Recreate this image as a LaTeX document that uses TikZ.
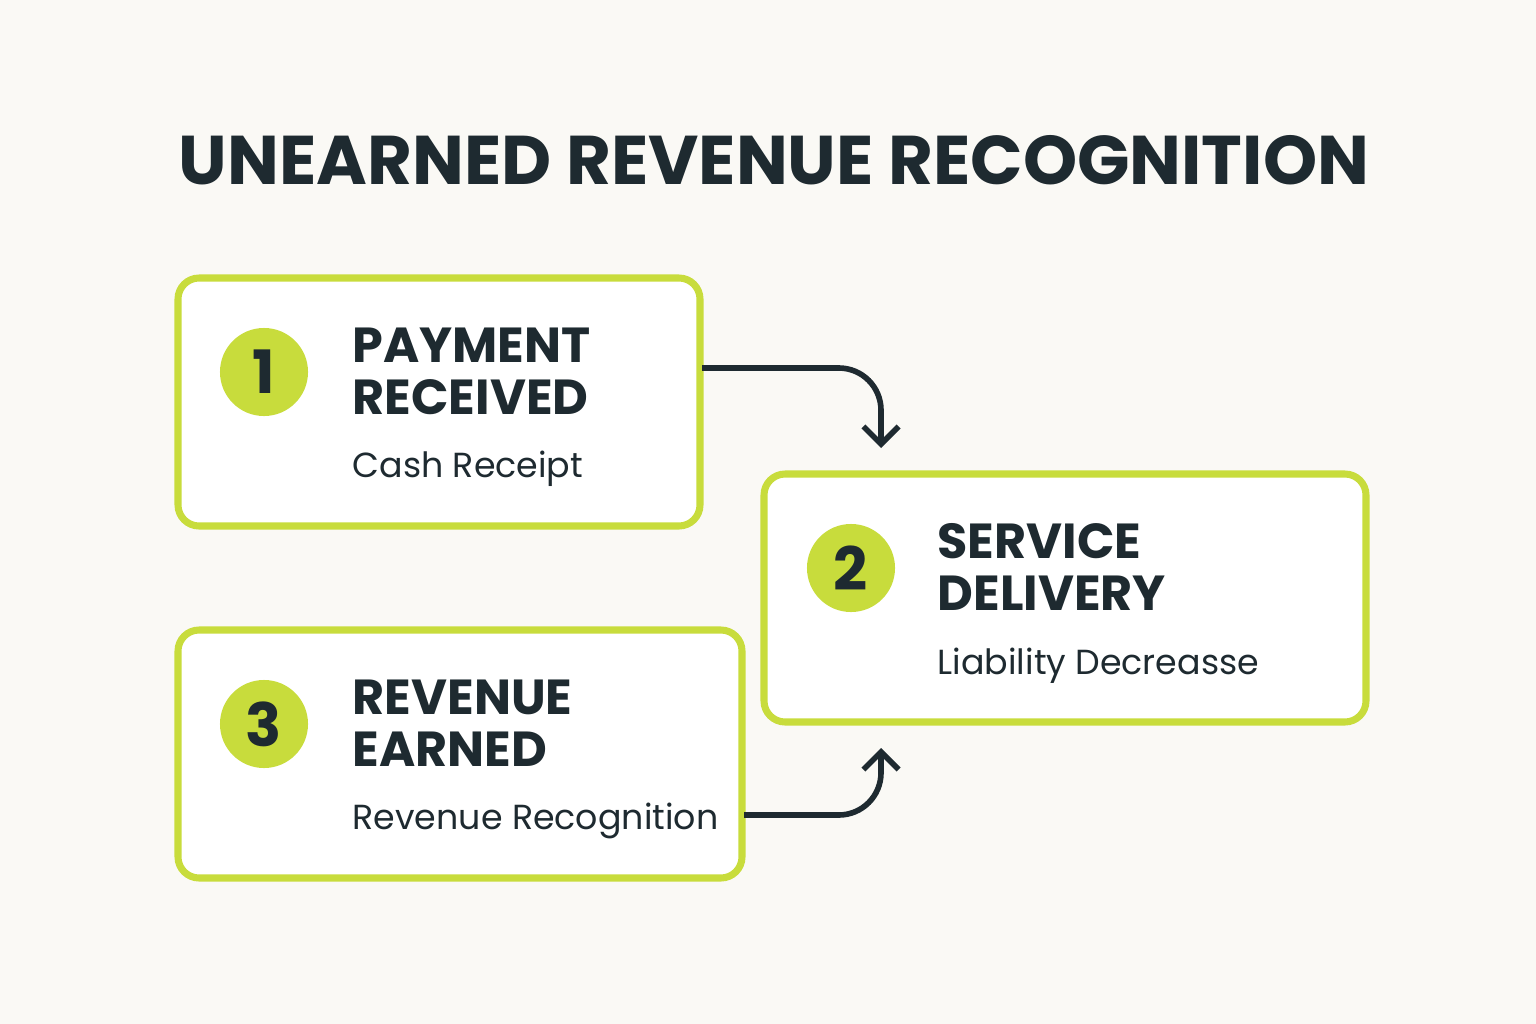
\documentclass[tikz,border=0pt]{standalone}
\usepackage{fontspec}
\setmainfont{Poppins}
\usetikzlibrary{arrows.meta,positioning,calc}
\definecolor{lime}{HTML}{C8DC3C}
\definecolor{ink}{HTML}{1E2A30}
\definecolor{paper}{HTML}{FAF9F5}
\tikzset{
  stepcard/.style={draw=lime, line width=2pt, rounded corners=6pt, fill=white},
  badge/.style={circle, fill=lime, minimum size=0.88cm, inner sep=0pt, text=ink, font=\bfseries\fontsize{17}{20}\selectfont},
  headtxt/.style={anchor=west, align=left, text=ink, font=\bfseries\fontsize{14}{14.8}\selectfont, inner sep=0pt},
  subtxt/.style={anchor=west, text=ink, font=\fontsize{9.9}{12}\selectfont, inner sep=0pt},
  flow/.style={draw=ink, line width=1.6pt, rounded corners=12pt, -{Straight Barb[length=5pt,width=10pt]}}
}
\begin{document}
\begin{tikzpicture}[x=0.01cm, y=-0.01cm]
  \fill[paper] (0,0) rectangle (1536,1024);
  \useasboundingbox (0,0) rectangle (1536,1024);

  % title
  \node[text=ink, font=\bfseries\fontsize{19.6}{24}\selectfont] (title) at (774,160) {UNEARNED REVENUE RECOGNITION};

  % cards
  \draw[stepcard] (178,278) rectangle (700,526);
  \draw[stepcard] (764,474) rectangle (1366,722);
  \draw[stepcard] (178,630) rectangle (742,878);
  \coordinate (c1) at (702,368);
  \coordinate (c3) at (744,815);
  \coordinate (in1) at (881,448);
  \coordinate (in3) at (881,748);

  % step 1
  \node[badge] (b1) at (264,372) {1};
  \node[headtxt] (h1) at (352,371) {PAYMENT\\RECEIVED};
  \node[subtxt] (s1) at (352,469) {Cash Receipt};

  % step 2
  \node[badge] (b2) at (851,568) {2};
  \node[headtxt] (h2) at (937,567) {SERVICE\\DELIVERY};
  \node[subtxt] (s2) at (937,666) {Liability Decreasse};

  % step 3
  \node[badge] (b3) at (264,724) {3};
  \node[headtxt] (h3) at (352,723) {REVENUE\\EARNED};
  \node[subtxt] (s3) at (352,821) {Revenue Recognition};

  % connectors
  \draw[flow] (c1) -| (in1);
  \draw[flow] (c3) -| (in3);
\end{tikzpicture}
\end{document}
